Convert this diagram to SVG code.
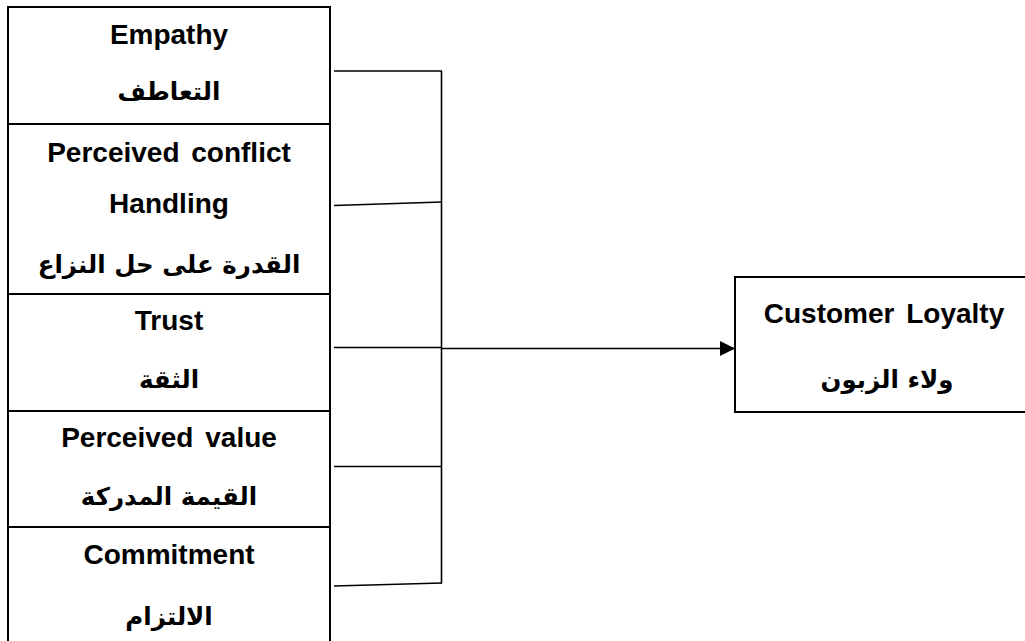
<svg xmlns="http://www.w3.org/2000/svg" width="1025" height="641" viewBox="0 0 1025 641">
<style>
.box{fill:#fff;stroke:#000;stroke-width:2}
.en{font-family:"Liberation Sans",Arial,sans-serif;font-weight:bold;font-size:28px;text-anchor:middle;fill:#000}
.ar{font-family:"DejaVu Sans","Noto Sans",sans-serif;font-weight:bold;font-size:24.5px;text-anchor:middle;fill:#000}
.ln{fill:none;stroke:#000;stroke-width:1.6}
</style>
<defs>
<marker id="ah" viewBox="0 0 10 10" refX="10" refY="5" markerWidth="15" markerHeight="15" markerUnits="userSpaceOnUse" orient="auto">
<path d="M0,0 L10,5 L0,10 Z" fill="#000"/>
</marker>
</defs>
<rect x="0" y="0" width="1025" height="641" fill="#fff"/>
<g id="empathy">
<rect class="box" x="8" y="7" width="322" height="117"/>
<text class="en" x="169" y="44">Empathy</text>
<text class="ar" x="169" y="100">التعاطف</text>
</g>
<g id="conflict">
<rect class="box" x="8" y="124" width="322" height="170"/>
<text class="en" x="169" y="162" word-spacing="4">Perceived conflict</text>
<text class="en" x="169" y="213">Handling</text>
<text class="ar" x="169" y="273">القدرة على حل النزاع</text>
</g>
<g id="trust">
<rect class="box" x="8" y="294" width="322" height="117"/>
<text class="en" x="169" y="330">Trust</text>
<text class="ar" x="169" y="388">الثقة</text>
</g>
<g id="value">
<rect class="box" x="8" y="411" width="322" height="116"/>
<text class="en" x="169" y="447" word-spacing="4">Perceived value</text>
<text class="ar" x="169" y="505">القيمة المدركة</text>
</g>
<g id="commitment">
<rect class="box" x="8" y="527" width="322" height="130"/>
<text class="en" x="169" y="564">Commitment</text>
<text class="ar" x="169" y="625">الالتزام</text>
</g>
<g id="loyalty">
<rect class="box" x="735" y="277" width="310" height="135"/>
<text class="en" x="884" y="323" word-spacing="4">Customer Loyalty</text>
<text class="ar" x="887" y="388">ولاء الزبون</text>
</g>
<g id="connectors">
<line class="ln" x1="334" y1="71" x2="442" y2="71"/>
<line class="ln" x1="334" y1="205.5" x2="442" y2="202"/>
<line class="ln" x1="334" y1="347.5" x2="442" y2="347.5"/>
<line class="ln" x1="334" y1="466.5" x2="442" y2="466.5"/>
<line class="ln" x1="334" y1="586" x2="442" y2="583"/>
<line class="ln" x1="441.5" y1="71" x2="441.5" y2="583.5"/>
<line class="ln" x1="441.5" y1="348.5" x2="735" y2="348.5" marker-end="url(#ah)"/>
</g>
</svg>
